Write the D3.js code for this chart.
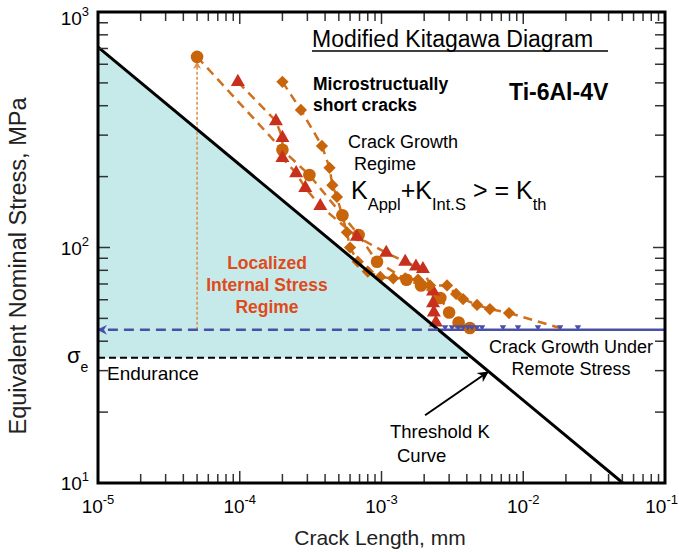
<!DOCTYPE html>
<html>
<head>
<meta charset="utf-8">
<script src="https://cdn.jsdelivr.net/npm/d3@7"></script>
<style>
body { margin: 0; background: #fff; }
svg text { font-family: "Liberation Sans", Arial, sans-serif; }
</style>
</head>
<body>
<div id="chart"></div>
<script>
// values: crack length in mm, stress in MPa
const circleLen = [5.0e-5, 2.0e-4, 3.1e-4, 5.3e-4, 6.9e-4, 9.3e-4, 1.5e-3, 1.9e-3, 2.6e-3, 3.0e-3, 3.5e-3, 4.2e-3];
const circleStress = [645, 260, 203, 137, 113, 87, 73, 69, 61, 53, 48, 45.5];

const triLen = [9.7e-5, 1.8e-4, 2.0e-4, 2.0e-4, 2.5e-4, 2.9e-4, 3.7e-4, 6.7e-4, 1.08e-3, 1.47e-3, 1.75e-3, 1.96e-3, 2.31e-3, 2.31e-3, 2.34e-3, 2.42e-3];
const triStress = [505, 344, 292, 240, 207, 179, 150, 111, 95, 87, 83, 81, 65, 58, 53, 48];

const diaLen = [2.0e-4, 2.7e-4, 3.8e-4, 4.3e-4, 4.5e-4, 4.85e-4, 5.7e-4, 6.0e-4, 6.8e-4, 8.0e-4, 9.8e-4, 1.21e-3, 1.47e-3, 1.81e-3, 2.2e-3, 2.9e-3, 3.36e-3, 3.76e-3, 4.72e-3, 5.82e-3, 7.94e-3];
const diaStress = [505, 384, 270, 218, 184, 164, 116, 100, 87, 79, 75, 74, 74, 73, 69, 69, 63.5, 60.4, 57, 54.8, 52.7];
const diaTailLen = [7.94e-3, 1.82e-2];
const diaTailStress = [52.7, 45.5];

const remoteLen = [2.81e-3, 3.14e-3, 3.47e-3, 3.76e-3, 4.07e-3, 4.35e-3, 4.72e-3, 5.12e-3, 7.19e-3, 9.18e-3, 1.27e-2, 1.82e-2, 2.43e-2];
const remoteStress = [45.5, 45.5, 45.5, 45.5, 45.5, 45.5, 45.5, 45.5, 45.5, 45.5, 45.5, 45.5, 45.5];

// threshold K curve end points, endurance limit, internal stress level
const thresholdLen = [1e-5, 0.0504];
const thresholdStress = [710, 10];
const enduranceStress = 34;
const enduranceEndLen = 4.36e-3;
const internalStress = 44.7;
const internalSolidFrom = 2.5e-3;
const arrowLen = 5.0e-5;
const arrowTop = 614;
const kArrowLen = [2.03e-3, 5.63e-3];
const kArrowStress = [19.4, 29.6];

const W = 679, H = 552;
const margin = {top: 12, right: 14, bottom: 69, left: 98};

const orange = "#c8640a";
const red = "#c8301e";
const blue = "#4a50a8";

const svg = d3.select("#chart").append("svg")
    .attr("width", W)
    .attr("height", H);

const x = d3.scaleLog().domain([1e-5, 1e-1]).range([margin.left, W - margin.right]);
const y = d3.scaleLog().domain([10, 1000]).range([H - margin.bottom, margin.top]);

const defs = svg.append("defs");
defs.append("clipPath").attr("id", "plot")
    .append("rect")
    .attr("x", margin.left).attr("y", margin.top)
    .attr("width", W - margin.left - margin.right)
    .attr("height", H - margin.top - margin.bottom);

function arrowMarker(id, color, w, h) {
    defs.append("marker")
        .attr("id", id)
        .attr("viewBox", "0 0 10 10")
        .attr("refX", 9).attr("refY", 5)
        .attr("markerUnits", "userSpaceOnUse")
        .attr("markerWidth", w).attr("markerHeight", h)
        .attr("orient", "auto")
        .append("path")
        .attr("d", "M0,0 L10,5 L0,10 L3,5 Z")
        .attr("fill", color);
}
arrowMarker("arrBlue", blue, 12, 10);
arrowMarker("arrOrange", "#e09050", 9, 8);
arrowMarker("arrBlack", "#000", 13, 11);

const plot = svg.append("g").attr("clip-path", "url(#plot)");
const line = d3.line().x(d => x(d[0])).y(d => y(d[1]));

// shaded internal stress regime
plot.append("path")
    .attr("d", line([[thresholdLen[0], enduranceStress], [thresholdLen[0], thresholdStress[0]], [enduranceEndLen, enduranceStress]]) + "Z")
    .attr("fill", "#c6eaea");

// endurance line
plot.append("path")
    .attr("d", line([[1e-5, enduranceStress], [enduranceEndLen, enduranceStress]]))
    .attr("stroke", "#000").attr("stroke-width", 2)
    .attr("stroke-dasharray", "7,4").attr("fill", "none");

// internal stress line: dashed part with arrow, then solid
svg.append("path")
    .attr("d", line([[internalSolidFrom, internalStress], [1e-5, internalStress]]))
    .attr("stroke", blue).attr("stroke-width", 2.5)
    .attr("stroke-dasharray", "10,6").attr("fill", "none")
    .attr("marker-end", "url(#arrBlue)");
plot.append("path")
    .attr("d", line([[internalSolidFrom, internalStress], [1e-1, internalStress]]))
    .attr("stroke", blue).attr("stroke-width", 2.5).attr("fill", "none");

// dotted vertical arrow
plot.append("path")
    .attr("d", line([[arrowLen, internalStress], [arrowLen, arrowTop]]))
    .attr("stroke", "#e09050").attr("stroke-width", 1.6)
    .attr("stroke-dasharray", "3,2").attr("fill", "none")
    .attr("marker-end", "url(#arrOrange)");

// series lines
const series = [
    {len: circleLen, stress: circleStress, shape: d3.symbolCircle, size: 125, color: orange, rot: 0},
    {len: triLen, stress: triStress, shape: d3.symbolTriangle, size: 85, color: red, rot: 0},
    {len: diaLen, stress: diaStress, shape: d3.symbolSquare, size: 75, color: orange, rot: 45}
];

series.forEach(function(s) {
    const pts = s.len.map((v, i) => [v, s.stress[i]]);
    plot.append("path")
        .attr("d", line(pts))
        .attr("stroke", "#d0701e").attr("stroke-width", 2.5)
        .attr("stroke-dasharray", "9,6").attr("fill", "none");
});
plot.append("path")
    .attr("d", line(diaTailLen.map((v, i) => [v, diaTailStress[i]])))
    .attr("stroke", "#d0701e").attr("stroke-width", 2.5)
    .attr("stroke-dasharray", "9,6").attr("fill", "none");

series.forEach(function(s) {
    const pts = s.len.map((v, i) => [v, s.stress[i]]);
    plot.selectAll(null).data(pts).enter()
        .append("path")
        .attr("d", d3.symbol().type(s.shape).size(s.size))
        .attr("transform", d => `translate(${x(d[0])},${y(d[1])}) rotate(${s.rot})`)
        .attr("fill", s.color);
});

// remote stress markers (small down triangles)
plot.selectAll(null).data(remoteLen.map((v, i) => [v, remoteStress[i]])).enter()
    .append("path")
    .attr("d", d3.symbol().type(d3.symbolTriangle).size(18))
    .attr("transform", d => `translate(${x(d[0])},${y(d[1]) - 1}) rotate(180)`)
    .attr("fill", blue);

// threshold K curve
plot.append("path")
    .attr("d", line(thresholdLen.map((v, i) => [v, thresholdStress[i]])))
    .attr("stroke", "#000").attr("stroke-width", 3).attr("fill", "none");

// annotation arrow to threshold curve
svg.append("path")
    .attr("d", line(kArrowLen.map((v, i) => [v, kArrowStress[i]])))
    .attr("stroke", "#000").attr("stroke-width", 2).attr("fill", "none")
    .attr("marker-end", "url(#arrBlack)");

// ticks on all four sides, inward
const xt = x.ticks();
const yt = y.ticks();
const isMajor = v => Math.abs(Math.log10(v) - Math.round(Math.log10(v))) < 1e-6;
const tg = svg.append("g").attr("stroke", "#333").attr("stroke-width", 1.5);
const x0 = margin.left, x1 = W - margin.right, y0 = margin.top, y1 = H - margin.bottom;
xt.forEach(function(v) {
    const L = isMajor(v) ? 12 : 9;
    tg.append("line").attr("x1", x(v)).attr("x2", x(v)).attr("y1", y1).attr("y2", y1 - L);
    tg.append("line").attr("x1", x(v)).attr("x2", x(v)).attr("y1", y0).attr("y2", y0 + L);
});
yt.forEach(function(v) {
    const L = isMajor(v) ? 12 : 10;
    tg.append("line").attr("y1", y(v)).attr("y2", y(v)).attr("x1", x0).attr("x2", x0 + L);
    tg.append("line").attr("y1", y(v)).attr("y2", y(v)).attr("x1", x1).attr("x2", x1 - L);
});

// frame
svg.append("rect")
    .attr("x", x0).attr("y", y0)
    .attr("width", x1 - x0).attr("height", y1 - y0)
    .attr("fill", "none").attr("stroke", "#000").attr("stroke-width", 3);

// tick labels
const xLabels = [-5, -4, -3, -2, -1];
const yLabels = [1, 2, 3];
xLabels.forEach(function(p) {
    const last = p === -1;
    const t = svg.append("text")
        .attr("x", last ? 678 : x(Math.pow(10, p))).attr("y", 513)
        .attr("text-anchor", last ? "end" : "middle").attr("font-size", 19);
    t.append("tspan").text("10");
    t.append("tspan").attr("dy", -9).attr("font-size", 13).text(p);
});
yLabels.forEach(function(p) {
    const yy = p === 3 ? 25 : y(Math.pow(10, p)) + 7;
    const t = svg.append("text")
        .attr("x", 89).attr("y", yy)
        .attr("text-anchor", "end").attr("font-size", 19);
    t.append("tspan").text("10");
    t.append("tspan").attr("dy", -9).attr("font-size", 13).text(p);
});

// axis titles
svg.append("text")
    .attr("x", 380).attr("y", 545)
    .attr("text-anchor", "middle").attr("font-size", 21)
    .attr("fill", "#222")
    .text("Crack Length, mm");
svg.append("text")
    .attr("transform", "translate(26, 266) rotate(-90)")
    .attr("text-anchor", "middle").attr("font-size", 23.5)
    .attr("fill", "#222")
    .text("Equivalent Nominal Stress, MPa");

// annotations
svg.append("text").attr("x", 312).attr("y", 47).attr("font-size", 23).text("Modified Kitagawa Diagram");
svg.append("line").attr("x1", 312).attr("x2", 608).attr("y1", 51).attr("y2", 51)
    .attr("stroke", "#000").attr("stroke-width", 1.5);

svg.append("text").attr("x", 313).attr("y", 90).attr("font-size", 17.5).attr("font-weight", "bold").text("Microstructually");
svg.append("text").attr("x", 313).attr("y", 111).attr("font-size", 17.5).attr("font-weight", "bold").text("short cracks");
svg.append("text").attr("x", 509).attr("y", 100).attr("font-size", 23).attr("font-weight", "bold").text("Ti-6Al-4V");

svg.append("text").attr("x", 348).attr("y", 148).attr("font-size", 18).text("Crack Growth");
svg.append("text").attr("x", 354).attr("y", 170).attr("font-size", 18).text("Regime");

const kt = svg.append("text").attr("x", 351).attr("y", 199).attr("font-size", 25);
kt.append("tspan").text("K");
kt.append("tspan").attr("dy", 11).attr("font-size", 16.5).text("Appl");
kt.append("tspan").attr("dy", -11).text("+K");
kt.append("tspan").attr("dy", 11).attr("font-size", 16.5).text("Int.S");
kt.append("tspan").attr("dy", -11).text(" > = K");
kt.append("tspan").attr("dy", 11).attr("font-size", 16.5).text("th");

["Localized", "Internal Stress", "Regime"].forEach(function(s, i) {
    svg.append("text").attr("x", 267).attr("y", 269 + i * 22)
        .attr("text-anchor", "middle").attr("font-size", 17.5)
        .attr("font-weight", "bold").attr("fill", "#e04a1a").text(s);
});

svg.append("text").attr("x", 571).attr("y", 353).attr("text-anchor", "middle").attr("font-size", 18).text("Crack Growth Under");
svg.append("text").attr("x", 571).attr("y", 375).attr("text-anchor", "middle").attr("font-size", 18).text("Remote Stress");

svg.append("text").attr("x", 390).attr("y", 438).attr("font-size", 18.5).text("Threshold K");
svg.append("text").attr("x", 397).attr("y", 462).attr("font-size", 18.5).text("Curve");

svg.append("text").attr("x", 107).attr("y", 380).attr("font-size", 19).text("Endurance");
const se = svg.append("text").attr("x", 67).attr("y", 363).attr("font-size", 22);
se.append("tspan").text("σ");
se.append("tspan").attr("dy", 9).attr("font-size", 14).text("e");
</script>
</body>
</html>
